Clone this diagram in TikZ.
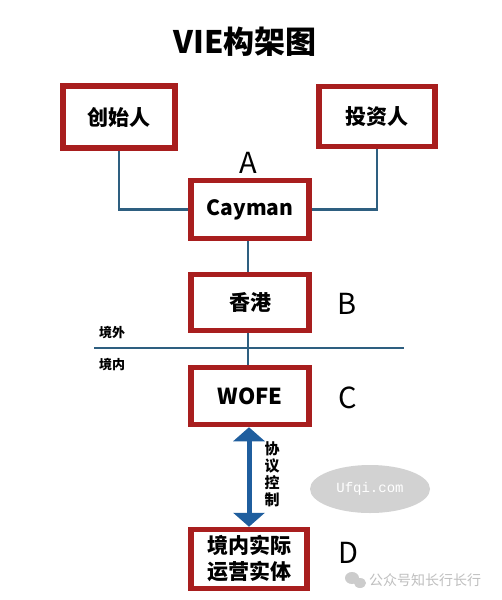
\documentclass[tikz,border=0pt]{standalone}
\usepackage{fontspec}
\setmainfont{Noto Sans CJK SC}
\newfontfamily\monofont{Liberation Mono}
\usetikzlibrary{arrows.meta,shapes.geometric}
\definecolor{boxred}{HTML}{A81E1E}
\definecolor{linkblue}{HTML}{2E5F80}
\definecolor{arrowblue}{HTML}{1F5E9E}
\pgfdeclarelayer{back}
\pgfdeclarelayer{lines}
\pgfsetlayers{back,lines,main}
\tikzset{
  box/.style={draw=boxred, line width=5.5pt, fill=white, inner sep=0pt, font=\bfseries\fontsize{21}{27}\selectfont, align=center},
  link/.style={draw=linkblue, line width=2.6pt},
  letter/.style={font=\fontsize{29}{30}\selectfont, inner sep=0pt},
  small/.style={font=\bfseries\fontsize{13}{15}\selectfont, inner sep=0pt}
}
\begin{document}
\begin{tikzpicture}[x=1pt,y=-1pt]
\begin{pgfonlayer}{back}
\fill[white] (0,0) rectangle (502,600);
\end{pgfonlayer}
\useasboundingbox (0,0) rectangle (502,600);
\node[font=\bfseries\fontsize{31}{34}\selectfont, inner sep=0pt] (title) at (245,42) {VIE构架图};
\node[box, minimum width=112pt, minimum height=62pt] (fou) at (119,117) {创始人};
\node[box, minimum width=116pt, minimum height=60pt] (inv) at (377,116.5) {投资人};
\node[box, minimum width=118pt, minimum height=58pt, font=\bfseries\fontsize{21}{26}\selectfont] (cay) at (250,209.5) {Cayman};
\node[box, minimum width=118pt, minimum height=56pt] (hk) at (250,302.5) {香港};
\node[box, minimum width=118pt, minimum height=57pt, font=\bfseries\fontsize{22}{26}\selectfont] (wofe) at (250,396) {WOFE};
\node[box, minimum width=116pt, minimum height=59pt, font=\bfseries\fontsize{21}{26}\selectfont] (opc) at (249,559) {境内实际\\运营实体};
% letters
\node[letter] (la) at (248,163) {A};
\node[letter] (lb) at (347,304) {B};
\node[letter] (lc) at (348,398) {C};
\node[letter] (ld) at (348,553) {D};
% border line
\coordinate (bl) at (94,348);
\coordinate (br) at (404,348);
\node[small] (out) at (112,333) {境外};
\node[small] (in) at (112,365) {境内};
\begin{pgfonlayer}{lines}
\draw[link] (fou.south) |- (cay.west);
\draw[link] (inv.south) |- (cay.east);
\draw[link] ([xshift=-2pt]cay.south) -- ([xshift=-2pt]hk.north);
\draw[link] ([xshift=-2pt]hk.south) -- ([xshift=-2pt]wofe.north);
\draw[link] (bl) -- (br);
\end{pgfonlayer}
\draw[arrowblue, line width=5pt, {Triangle[width=31pt,length=14pt]}-{Triangle[width=31pt,length=14pt]}] ([xshift=-1pt]wofe.south) -- (opc.north);
\node[font=\bfseries\fontsize{15}{17}\selectfont, align=center, inner sep=0pt] (ctl) at (272,474) {协\\议\\控\\制};
% watermark
\node[ellipse, fill=gray!35, minimum width=120pt, minimum height=48pt, inner sep=0pt] (wm) at (370,489) {};
\node[text=white, font=\monofont\fontsize{14}{16}\selectfont] (wmt) at (wm) {Ufqi.com};
\fill[gray!40] (352,578) ellipse (7pt and 6pt);
\fill[gray!40] (360,583) ellipse (6pt and 5pt);
\node[text=gray!50, font=\fontsize{14}{16}\selectfont, inner sep=0pt, anchor=west] (wm2) at (369,580) {公众号知长行长行};
\end{tikzpicture}
\end{document}
